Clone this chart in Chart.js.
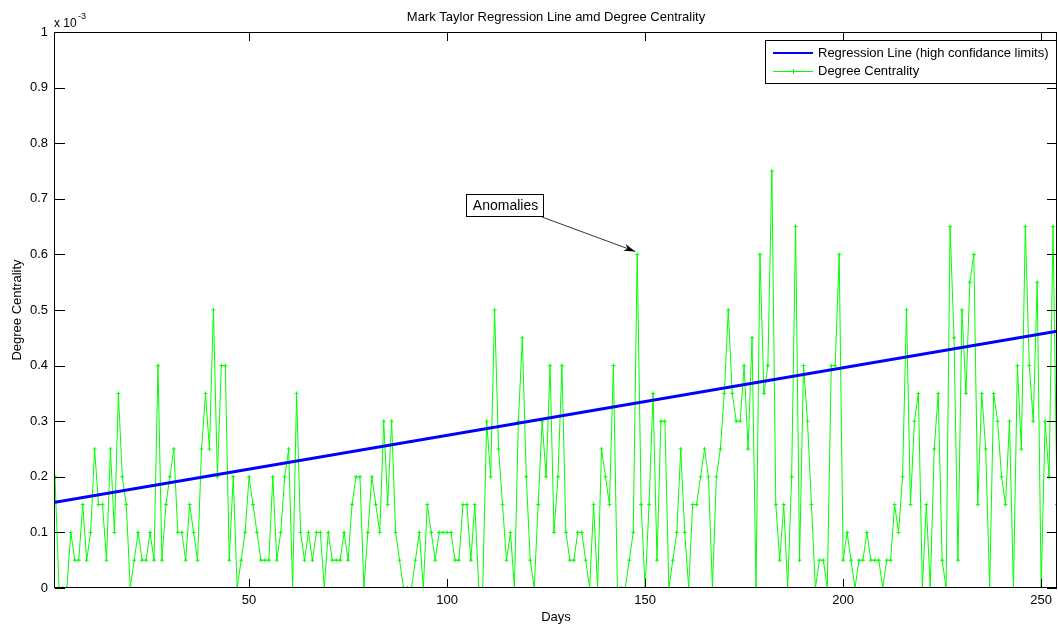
<!DOCTYPE html>
<html>
<head>
<meta charset="utf-8">
<script src="https://cdn.jsdelivr.net/npm/chart.js@4/dist/chart.umd.min.js"></script>
<style>
  html, body { margin: 0; padding: 0; background: #fff; }
  #wrap { width: 1058px; height: 626px; }
</style>
</head>
<body>
<div id="wrap"><canvas id="chart" width="1058" height="626"></canvas></div>
<script>
// degree centrality per day, in units of 1e-3
const centrality = [
  0.2, 0, 0, 0, 0.1, 0.05, 0.05, 0.15, 0.05, 0.1, 0.25, 0.15, 0.15, 0.05, 0.25, 0.1, 0.35, 0.2, 0.15, 0, 0.05, 0.1, 0.05, 0.05, 0.1, 0.05,
  0.4, 0.05, 0.15, 0.2, 0.25, 0.1, 0.1, 0.05, 0.15, 0.1, 0.05, 0.25, 0.35, 0.25, 0.5, 0.2, 0.4, 0.4, 0.05, 0.2, 0, 0.05, 0.1, 0.2, 0.15,
  0.1, 0.05, 0.05, 0.05, 0.2, 0.05, 0.1, 0.2, 0.25, 0, 0.35, 0.1, 0.05, 0.1, 0.05, 0.1, 0.1, 0, 0.1, 0.05, 0.05, 0.05, 0.1, 0.05, 0.15, 0.2,
  0.2, 0, 0.1, 0.2, 0.15, 0.1, 0.3, 0.15, 0.3, 0.1, 0.05, 0, 0, 0, 0.05, 0.1, 0, 0.15, 0.1, 0.05, 0.1, 0.1, 0.1, 0.1, 0.05,
  0.05, 0.15, 0.15, 0.05, 0.15, 0, 0, 0.3, 0.2, 0.5, 0.25, 0.15, 0.05, 0.1, 0, 0.3, 0.45, 0.2, 0.05, 0, 0.15, 0.3, 0.2, 0.4, 0.1,
  0.2, 0.4, 0.1, 0.05, 0.05, 0.1, 0.1, 0.05, 0, 0.15, 0, 0.25, 0.2, 0.15, 0.4, 0, 0, 0, 0.05, 0.1, 0.6, 0.15, 0, 0.15, 0.35,
  0.05, 0.3, 0.3, 0, 0.05, 0.1, 0.25, 0.1, 0, 0.15, 0.15, 0.2, 0.25, 0.2, 0, 0.2, 0.25, 0.35, 0.5, 0.35, 0.3, 0.3, 0.4, 0.25, 0.45,
  0, 0.6, 0.35, 0.4, 0.75, 0.15, 0.05, 0.15, 0, 0.2, 0.65, 0.05, 0.4, 0.3, 0.15, 0, 0.05, 0.05, 0, 0.4, 0.4, 0.6, 0.05, 0.1, 0.05, 0,
  0.05, 0.05, 0.1, 0.05, 0.05, 0.05, 0, 0.05, 0.05, 0.15, 0.1, 0.2, 0.5, 0.15, 0.3, 0.35, 0, 0.15, 0, 0.25, 0.35, 0.05, 0, 0.65, 0.45,
  0.05, 0.5, 0.35, 0.55, 0.6, 0.15, 0.35, 0.25, 0, 0.35, 0.3, 0.2, 0.15, 0.3, 0, 0.4, 0.25, 0.65, 0.4, 0.3, 0.55, 0, 0.3, 0.2, 0.65, 0.15
];
const firstDay = 1;

// regression line end points
const regressionDays = [1, 254];
const regressionValues = [0.154, 0.462];

const xTicks = [50, 100, 150, 200, 250];
const yTicks = [0, 0.1, 0.2, 0.3, 0.4, 0.5, 0.6, 0.7, 0.8, 0.9, 1];

const titleText = "Mark Taylor Regression Line amd Degree Centrality";
const xTitle = "Days";
const yTitle = "Degree Centrality";
const legendLabels = ["Regression Line (high confidance limits)", "Degree Centrality"];
const anomaly = { label: "Anomalies", day: 148, value: 0.6 };

const FONT = "'Liberation Sans', Arial, sans-serif";

const centralityPoints = centrality.map((v, i) => ({ x: firstDay + i, y: v }));
const regressionPoints = regressionDays.map((d, i) => ({ x: d, y: regressionValues[i] }));

const matlabAxes = {
  id: "matlabAxes",
  afterDraw(chart) {
    const ctx = chart.ctx;
    const a = chart.chartArea;
    const xs = chart.scales.x, ys = chart.scales.y;
    ctx.save();
    ctx.strokeStyle = "#000";
    ctx.lineWidth = 1;
    // box
    ctx.strokeRect(Math.round(a.left) - 0.5, Math.round(a.top) + 0.5,
      Math.round(a.right - a.left), Math.round(a.bottom - a.top) - 1);
    // inward ticks
    ctx.beginPath();
    yTicks.forEach(v => {
      const y = Math.round(ys.getPixelForValue(v)) + 0.5;
      ctx.moveTo(a.left, y); ctx.lineTo(a.left + 10, y);
      ctx.moveTo(a.right, y); ctx.lineTo(a.right - 10, y);
    });
    xTicks.forEach(v => {
      const x = Math.round(xs.getPixelForValue(v)) + 0.5;
      ctx.moveTo(x, a.bottom); ctx.lineTo(x, a.bottom - 9);
      ctx.moveTo(x, a.top); ctx.lineTo(x, a.top + 9);
    });
    ctx.stroke();

    ctx.fillStyle = "#000";
    // title
    ctx.font = "13px " + FONT;
    ctx.textAlign = "center";
    ctx.textBaseline = "middle";
    ctx.fillText(titleText, (a.left + a.right) / 2, 17);
    // axis titles
    ctx.fillText(xTitle, (a.left + a.right) / 2, 617);
    ctx.save();
    ctx.translate(17, (a.top + a.bottom) / 2);
    ctx.rotate(-Math.PI / 2);
    ctx.fillText(yTitle, 0, 0);
    ctx.restore();
    // exponent
    ctx.textAlign = "left";
    ctx.textBaseline = "alphabetic";
    ctx.font = "12px " + FONT;
    ctx.fillText("x 10", 54, 27);
    ctx.font = "9px " + FONT;
    ctx.fillText("-3", 78, 19);

    // legend
    const lx = 765, ly = 40, lw = a.right - lx, lh = 43;
    ctx.fillStyle = "#fff";
    ctx.fillRect(lx, ly, lw, lh);
    ctx.strokeRect(lx + 0.5, ly + 0.5, lw - 1, lh);
    ctx.lineWidth = 2;
    ctx.strokeStyle = "#0000ff";
    ctx.beginPath(); ctx.moveTo(773, 53); ctx.lineTo(813, 53); ctx.stroke();
    ctx.lineWidth = 1.2;
    ctx.strokeStyle = "#00ff00";
    ctx.beginPath(); ctx.moveTo(773, 71.5); ctx.lineTo(813, 71.5);
    ctx.moveTo(793.5, 69); ctx.lineTo(793.5, 74); ctx.stroke();
    ctx.fillStyle = "#000";
    ctx.font = "13px " + FONT;
    ctx.textBaseline = "middle";
    ctx.fillText(legendLabels[0], 818, 53);
    ctx.fillText(legendLabels[1], 818, 71);

    // anomaly annotation
    const tx = xs.getPixelForValue(anomaly.day) - 2;
    const ty = ys.getPixelForValue(anomaly.value) - 3;
    const bx = 466, by = 194, bw = 77, bh = 22;
    ctx.fillStyle = "#fff";
    ctx.fillRect(bx, by, bw, bh);
    ctx.strokeStyle = "#000";
    ctx.lineWidth = 1;
    ctx.strokeRect(bx + 0.5, by + 0.5, bw, bh);
    ctx.fillStyle = "#000";
    ctx.textAlign = "center";
    ctx.font = "14px " + FONT;
    ctx.fillText(anomaly.label, bx + bw / 2 + 1, by + bh / 2 + 1);
    const sx = bx + bw - 1, sy = by + bh + 1;
    ctx.strokeStyle = "#333";
    ctx.beginPath(); ctx.moveTo(sx, sy); ctx.lineTo(tx, ty); ctx.stroke();
    const ang = Math.atan2(ty - sy, tx - sx);
    ctx.fillStyle = "#000";
    ctx.beginPath();
    ctx.moveTo(tx, ty);
    ctx.lineTo(tx - 12 * Math.cos(ang - 0.3), ty - 12 * Math.sin(ang - 0.3));
    ctx.lineTo(tx - 8 * Math.cos(ang), ty - 8 * Math.sin(ang));
    ctx.lineTo(tx - 12 * Math.cos(ang + 0.3), ty - 12 * Math.sin(ang + 0.3));
    ctx.closePath();
    ctx.fill();
    ctx.restore();
  }
};

new Chart(document.getElementById("chart"), {
  type: "line",
  data: {
    datasets: [
      {
        label: legendLabels[1], data: centralityPoints,
        borderColor: "#00ff00", borderWidth: 1, tension: 0,
        pointStyle: "cross", pointRadius: 2, pointBorderColor: "#00ff00", pointBorderWidth: 1,
        order: 2
      },
      {
        label: legendLabels[0], data: regressionPoints,
        borderColor: "#0000ff", borderWidth: 3, pointRadius: 0, tension: 0,
        order: 1
      }
    ]
  },
  options: {
    responsive: false,
    animation: false,
    layout: { autoPadding: false, padding: { left: 0, right: 1, top: 32, bottom: 0 } },
    plugins: { legend: { display: false }, tooltip: { enabled: false } },
    scales: {
      x: {
        type: "linear", min: 1, max: 254,
        grid: { display: false, drawTicks: false }, border: { display: false },
        afterBuildTicks: s => { s.ticks = xTicks.map(v => ({ value: v })); },
        afterFit: s => { s.height = 38; s.paddingLeft = 0; s.paddingRight = 0; },
        ticks: { padding: 5, color: "#000", maxRotation: 0, font: { family: FONT, size: 13 },
          callback: v => String(v) }
      },
      y: {
        min: 0, max: 1,
        grid: { display: false, drawTicks: false }, border: { display: false },
        afterBuildTicks: s => { s.ticks = yTicks.map(v => ({ value: v })); },
        afterFit: s => { s.width = 55; s.paddingTop = 0; s.paddingBottom = 0; },
        ticks: { padding: 7, color: "#000", font: { family: FONT, size: 13 },
          callback: v => String(v) }
      }
    }
  },
  plugins: [matlabAxes]
});
</script>
</body>
</html>
